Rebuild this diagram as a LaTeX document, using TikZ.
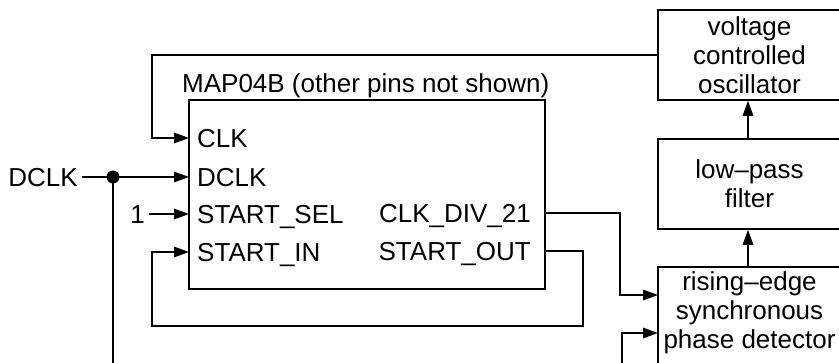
\documentclass[tikz,border=0pt]{standalone}
\usepackage{fontspec}
\setmainfont{Liberation Sans}
\usetikzlibrary{arrows.meta}
\tikzset{
  wire/.style={line width=1.6pt, line join=miter},
  arr/.style={wire, -{Triangle[length=15pt,width=10.5pt]}},
  blk/.style={draw, line width=1.6pt, rectangle, inner sep=0pt, align=center, minimum width=183pt, minimum height=90pt},
  lbl/.style={inner sep=0pt},
}
\begin{document}
\begin{tikzpicture}[x=1pt,y=-1pt,font=\fontsize{26}{29}\selectfont]
\useasboundingbox (0,0) rectangle (839,363);
\clip (0,0) rectangle (839,363);
% main block
\node[draw, line width=1.6pt, minimum width=356pt, minimum height=189pt, inner sep=0pt] (map) at (367,194.5) {};
\node[lbl, anchor=base west] (title) at (182,92.5) {MAP04B (other pins not shown)};
\node[lbl, anchor=base west] (lclk) at (197,147.3) {CLK};
\node[lbl, anchor=base west] (ldclk) at (197,186.3) {DCLK};
\node[lbl, anchor=base west] (lsel) at (197,223.3) {START\_SEL};
\node[lbl, anchor=base west] (lin) at (197,261.3) {START\_IN};
\node[lbl, anchor=base east] (ldiv) at (531,222.3) {CLK\_DIV\_21};
\node[lbl, anchor=base east] (lout) at (531,260.3) {START\_OUT};
% right blocks
\node[blk] (vco) at (749.5,55) {voltage\\controlled\\oscillator};
\node[blk] (lpf) at (749.5,184) {low–pass\\filter};
\node[blk, minimum height=110pt] (pd) at (749.5,322) {};
\node[lbl, align=center] (pdtext) at (749.5,313) {rising–edge\\synchronous\\phase detector};
% inputs
\node[lbl, anchor=base east] (din) at (78,186.3) {DCLK};
\node[lbl, anchor=base east] (one) at (145,223.3) {1};
% pin coordinates
\coordinate (pclk) at (189,138);
\coordinate (pdclk) at (189,177);
\coordinate (psel) at (189,214);
\coordinate (pin) at (189,252);
\coordinate (pdiv) at (545,213);
\coordinate (pout) at (545,251);
\coordinate (pd1) at (658,295);
\coordinate (pd2) at (658,333);
\coordinate (dot) at (113,177);
\coordinate (dstart) at (82,177);
\coordinate (onestart) at (149,214);
\coordinate (dbot) at (113,370);
\coordinate (pdbot) at (622,370);
% wires
\draw[arr] (vco.west) -| (152,138) -- (pclk);
\draw[arr] (dstart) -- (pdclk);
\fill (dot) circle (6.5pt);
\draw[wire] (dot) -- (dbot);
\draw[arr] (onestart) -- (psel);
\draw[arr] (pdiv) -| (620,295) -- (pd1);
\draw[arr] (pout) -| (583,326) -| (152,252) -- (pin);
\draw[arr] (pdbot) |- (pd2);
\draw[arr] (pd.north -| 748,0) -- (lpf.south -| 748,0);
\draw[arr] (lpf.north -| 748,0) -- (vco.south -| 748,0);
\end{tikzpicture}
\end{document}
